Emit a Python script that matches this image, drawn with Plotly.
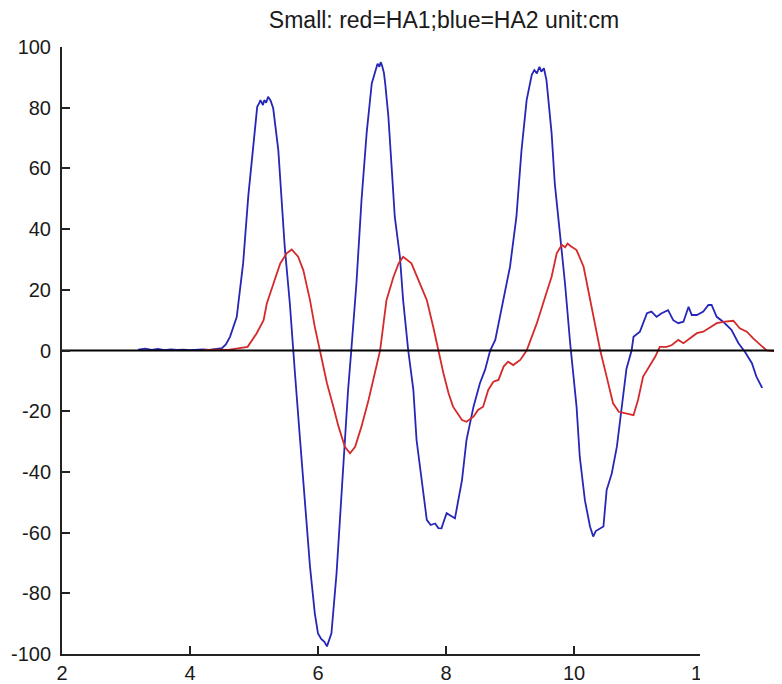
import plotly.graph_objects as go

# ---- data ----
blue_x = [3.19, 3.30, 3.40, 3.50, 3.60, 3.70, 3.80, 3.90, 4.00, 4.10, 4.20, 4.30, 4.40, 4.50,
          4.56, 4.625, 4.73, 4.83, 4.91, 4.99, 5.05, 5.08, 5.10, 5.14, 5.16, 5.19, 5.22, 5.26,
          5.30, 5.38, 5.43, 5.48, 5.56, 5.61, 5.64, 5.72, 5.80, 5.875, 5.95, 6.00, 6.05, 6.10,
          6.14, 6.21, 6.29, 6.37, 6.42, 6.47, 6.52, 6.60, 6.68, 6.76, 6.84, 6.90, 6.93, 6.96,
          6.98, 7.00, 7.03, 7.05, 7.10, 7.15, 7.20, 7.28, 7.33, 7.41, 7.49, 7.54, 7.62, 7.70,
          7.76, 7.83, 7.88, 7.93, 7.97, 8.01, 8.08, 8.14, 8.25, 8.32, 8.43, 8.53, 8.61, 8.69,
          8.77, 8.84, 9.00, 9.10, 9.18, 9.26, 9.34, 9.38, 9.42, 9.46, 9.49, 9.53, 9.57, 9.65,
          9.70, 9.78, 9.86, 9.94, 10.04, 10.09, 10.17, 10.25, 10.30, 10.34, 10.38, 10.46, 10.51,
          10.59, 10.67, 10.74, 10.82, 10.90, 10.93, 11.03, 11.14, 11.21, 11.29, 11.37, 11.47,
          11.55, 11.63, 11.71, 11.79, 11.84, 11.92, 12.02, 12.10, 12.15, 12.23, 12.33, 12.46,
          12.57, 12.67, 12.78, 12.85, 12.93, 13.00, 13.10]
blue_y = [0.3, 0.6, 0.2, 0.5, 0.1, 0.4, 0.2, 0.3, 0.1, 0.2, 0.4, 0.2, 0.5, 0.8,
          2.0, 4.5, 11.0, 28.7, 50.7, 68.3, 80.3, 81.4, 82.5, 80.9, 82.5, 81.6, 83.6, 82.3,
          79.8, 66.0, 49.6, 34.2, 15.5, 0.0, -7.5, -29.5, -51.5, -71.2, -86.6, -93.2, -95.0, -96.0,
          -97.5, -93.2, -73.4, -46.0, -29.5, -13.0, 0.0, 22.0, 49.6, 71.6, 88.0, 92.5, 94.5, 93.5,
          95.0, 94.0, 91.5, 88.0, 77.0, 60.6, 44.0, 30.9, 16.6, 0.0, -13.0, -29.5, -42.7, -55.8,
          -57.5, -57.0, -58.5, -58.6, -56.0, -53.6, -54.5, -55.3, -42.7, -29.5, -18.5, -10.8, -6.4, 0.0,
          3.5, 11.0, 27.6, 44.0, 66.0, 82.5, 90.8, 92.4, 91.3, 93.5, 91.9, 93.0, 89.1, 71.6,
          55.0, 38.6, 22.0, 2.4, -18.5, -35.0, -49.3, -58.0, -61.3, -59.5, -59.0, -58.0, -46.0,
          -40.5, -31.7, -20.0, -6.0, 0.0, 4.5, 6.2, 12.3, 12.8, 11.1, 12.3, 13.3,
          10.0, 9.0, 9.5, 14.4, 11.7, 11.7, 12.8, 15.0, 15.0, 11.1, 9.5, 6.8,
          2.4, -0.4, -4.2, -8.6, -11.9, -16.0, -22.0]

red_x = [4.20, 4.40, 4.60, 4.70, 4.83, 4.90, 5.04, 5.15, 5.20, 5.30, 5.41, 5.51, 5.59, 5.69,
         5.77, 5.875, 5.95, 6.03, 6.14, 6.24, 6.32, 6.42, 6.50, 6.58, 6.68, 6.79, 6.89, 6.97,
         7.07, 7.18, 7.26, 7.33, 7.46, 7.59, 7.70, 7.80, 7.88, 7.96, 8.04, 8.11, 8.25, 8.32,
         8.43, 8.50, 8.58, 8.66, 8.74, 8.82, 8.90, 8.97, 9.05, 9.16, 9.26, 9.42, 9.55, 9.65,
         9.73, 9.81, 9.86, 9.90, 9.94, 10.04, 10.15, 10.22, 10.30, 10.41, 10.51, 10.61, 10.70,
         10.80, 10.93, 11.00, 11.08, 11.19, 11.27, 11.34, 11.45, 11.53, 11.63, 11.71, 11.81,
         11.92, 12.02, 12.13, 12.23, 12.36, 12.49, 12.59, 12.70, 12.80, 12.91, 13.01, 13.11, 13.24]
red_y = [0.1, 0.3, 0.2, 0.5, 0.8, 1.2, 5.6, 10.0, 15.5, 22.0, 28.7, 32.0, 33.3, 30.9,
         26.5, 16.6, 7.8, 0.0, -10.8, -18.5, -25.0, -31.7, -33.9, -31.7, -25.0, -16.3, -7.5, 0.0,
         16.6, 24.3, 28.7, 30.9, 28.7, 22.0, 16.6, 7.8, 0.0, -7.5, -14.1, -18.5, -22.9, -23.5,
         -21.8, -19.6, -18.5, -13.0, -10.3, -9.7, -5.3, -3.7, -4.8, -3.1, 0.0, 9.0, 17.7, 24.3,
         32.0, 34.8, 34.0, 35.2, 34.5, 33.1, 27.6, 19.9, 11.1, 0.0, -8.6, -17.4, -20.2,
         -20.7, -21.3, -16.3, -8.6, -4.8, -2.0, 1.2, 1.2, 1.8, 3.5, 2.4, 4.0,
         5.7, 6.2, 7.8, 9.0, 9.5, 9.8, 7.3, 6.2, 4.0, 1.8, 0.0, -0.2, 0.0]

zero_x = [2, 13.25]
zero_y = [0, 0]

x_ticks = [2, 4, 6, 8, 10, 12]
y_ticks = [-100, -80, -60, -40, -20, 0, 20, 40, 60, 80, 100]
y_tick_labels = ["-100", "-80", "-60", "-40", "-20", "0", "20", "40", "60", "80", "100"]
title_text = "Small: red=HA1;blue=HA2 unit:cm"

BLUE = "#2626b8"
RED = "#d42a2a"
AX = "#222222"
TXT = "#1a1a1a"
FONT = "Arial, Liberation Sans, sans-serif"

# the page body adds an 8px offset; margins compensate for it
W, H = 782, 684
OFF = 8

fig = go.Figure()
fig.add_trace(go.Scatter(x=blue_x, y=blue_y, mode="lines",
                         line=dict(color=BLUE, width=1.8), showlegend=False))
fig.add_trace(go.Scatter(x=red_x, y=red_y, mode="lines",
                         line=dict(color=RED, width=1.8), showlegend=False))
fig.add_trace(go.Scatter(x=zero_x, y=zero_y, mode="lines",
                         line=dict(color="#000000", width=2), showlegend=False))

fig.update_layout(
    width=W, height=H,
    margin=dict(l=62 - OFF, r=OFF, t=47 - OFF, b=30 + OFF, autoexpand=False),
    paper_bgcolor="white", plot_bgcolor="white",
    font=dict(family=FONT, size=20, color=TXT),
    title=dict(text=title_text, x=(444 - OFF) / W, xanchor="center", xref="container",
               y=1 - (20 - OFF) / H, yanchor="middle", yref="container",
               font=dict(family=FONT, size=23, color=TXT)),
    xaxis=dict(range=[2, 13.25], tickvals=x_ticks, ticks="inside", ticklen=8,
               tickwidth=1.5, tickcolor=AX, showline=True, linecolor=AX, linewidth=2,
               showgrid=False, zeroline=False, ticklabelstandoff=0, automargin=False,
               tickfont=dict(family=FONT, size=20, color=TXT)),
    yaxis=dict(range=[-100, 100], tickvals=y_ticks, ticktext=y_tick_labels,
               ticks="inside", ticklen=8,
               tickwidth=1.5, tickcolor=AX, showline=True, linecolor=AX, linewidth=2,
               showgrid=False, zeroline=False, ticklabelstandoff=5, automargin=False,
               tickfont=dict(family=FONT, size=20, color=TXT)),
    shapes=[dict(type="rect", xref="paper", yref="paper",
                 x0=(700 - 62) / 720, x1=1.05, y0=-0.1, y1=(654 - 388) / 607,
                 fillcolor="white", line=dict(width=0), layer="above")],
)

fig.write_html("out.html")
